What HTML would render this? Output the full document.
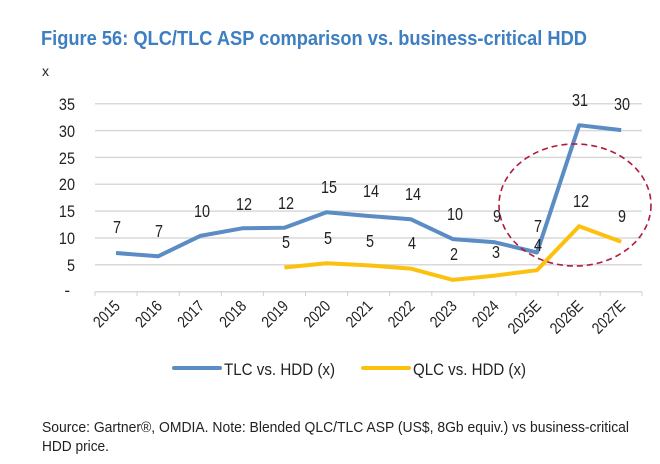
<!DOCTYPE html>
<html><head><meta charset="utf-8"><style>
html,body{margin:0;padding:0;background:#fff;}
svg{display:block;font-family:"Liberation Sans",Arial,sans-serif;}
</style></head><body>
<svg width="660" height="464" viewBox="0 0 660 464">
<text x="41" y="45" font-size="20" font-weight="bold" fill="#3d7fc1" textLength="546" lengthAdjust="spacingAndGlyphs">Figure 56: QLC/TLC ASP comparison vs. business-critical HDD</text>
<text x="42" y="76" font-size="14" fill="#222">x</text>
<g stroke="#d9d9d9" stroke-width="1.5">
<line x1="95" x2="642" y1="103.7" y2="103.7"/>
<line x1="95" x2="642" y1="130.6" y2="130.6"/>
<line x1="95" x2="642" y1="157.4" y2="157.4"/>
<line x1="95" x2="642" y1="184.3" y2="184.3"/>
<line x1="95" x2="642" y1="211.1" y2="211.1"/>
<line x1="95" x2="642" y1="238" y2="238"/>
<line x1="95" x2="642" y1="264.8" y2="264.8"/>
<line x1="95" x2="642" y1="291.7" y2="291.7"/>
</g>
<g stroke="#d0d0d0" stroke-width="1">
<line x1="95" x2="95" y1="291.7" y2="296"/><line x1="137.1" x2="137.1" y1="291.7" y2="296"/><line x1="179.2" x2="179.2" y1="291.7" y2="296"/><line x1="221.3" x2="221.3" y1="291.7" y2="296"/><line x1="263.4" x2="263.4" y1="291.7" y2="296"/><line x1="305.5" x2="305.5" y1="291.7" y2="296"/><line x1="347.6" x2="347.6" y1="291.7" y2="296"/><line x1="389.7" x2="389.7" y1="291.7" y2="296"/><line x1="431.8" x2="431.8" y1="291.7" y2="296"/><line x1="473.9" x2="473.9" y1="291.7" y2="296"/><line x1="516" x2="516" y1="291.7" y2="296"/><line x1="558.1" x2="558.1" y1="291.7" y2="296"/><line x1="600.2" x2="600.2" y1="291.7" y2="296"/><line x1="642" x2="642" y1="291.7" y2="296"/>
</g>
<g font-size="17" fill="#222" text-anchor="end">
<text transform="translate(75,110) scale(0.85,1)">35</text><text transform="translate(75,137) scale(0.85,1)">30</text><text transform="translate(75,164) scale(0.85,1)">25</text><text transform="translate(75,190) scale(0.85,1)">20</text><text transform="translate(75,217) scale(0.85,1)">15</text><text transform="translate(75,244) scale(0.85,1)">10</text><text transform="translate(75,271) scale(0.85,1)">5</text><text x="70" y="296">-</text>
</g>
<g font-size="16" fill="#222" text-anchor="end">
<text transform="translate(121,307) rotate(-45) scale(0.85,1)">2015</text>
<text transform="translate(163.1,307) rotate(-45) scale(0.85,1)">2016</text>
<text transform="translate(205.2,307) rotate(-45) scale(0.85,1)">2017</text>
<text transform="translate(247.3,307) rotate(-45) scale(0.85,1)">2018</text>
<text transform="translate(289.4,307) rotate(-45) scale(0.85,1)">2019</text>
<text transform="translate(331.5,307) rotate(-45) scale(0.85,1)">2020</text>
<text transform="translate(373.6,307) rotate(-45) scale(0.85,1)">2021</text>
<text transform="translate(415.7,307) rotate(-45) scale(0.85,1)">2022</text>
<text transform="translate(457.8,307) rotate(-45) scale(0.85,1)">2023</text>
<text transform="translate(499.9,307) rotate(-45) scale(0.85,1)">2024</text>
<text transform="translate(542,307) rotate(-45) scale(0.85,1)">2025E</text>
<text transform="translate(584.1,307) rotate(-45) scale(0.85,1)">2026E</text>
<text transform="translate(626.2,307) rotate(-45) scale(0.85,1)">2027E</text>
</g>
<polyline fill="none" stroke="#5b8cc4" stroke-width="4" stroke-linejoin="round" points="116,253 158.1,256.3 200.2,235.9 242.3,228.3 284.4,227.8 326.5,212.2 368.6,216 410.7,219.2 452.8,239.1 494.9,242.3 537,252.5 579.1,125.2 621.2,130.1"/>
<polyline fill="none" stroke="#fcc10e" stroke-width="4" stroke-linejoin="round" points="284.4,267.5 326.5,263.2 368.6,265.4 410.7,268.6 452.8,279.9 494.9,275.6 537,270.2 579.1,226.2 621.2,241.8"/>
<ellipse cx="575" cy="205" rx="76" ry="61" fill="none" stroke="#b01a3c" stroke-width="1.6" stroke-dasharray="6,4"/>
<g font-size="18" fill="#222" text-anchor="middle">
<text transform="translate(117,233) scale(0.8,1)">7</text><text transform="translate(159,237) scale(0.8,1)">7</text><text transform="translate(202,217) scale(0.8,1)">10</text><text transform="translate(244,210) scale(0.8,1)">12</text><text transform="translate(286,209) scale(0.8,1)">12</text><text transform="translate(329,193) scale(0.8,1)">15</text><text transform="translate(371,197) scale(0.8,1)">14</text><text transform="translate(413,200) scale(0.8,1)">14</text><text transform="translate(455,220) scale(0.8,1)">10</text><text transform="translate(497,222) scale(0.8,1)">9</text><text transform="translate(538,232) scale(0.8,1)">7</text><text transform="translate(580,106) scale(0.8,1)">31</text><text transform="translate(622,110) scale(0.8,1)">30</text>
<text transform="translate(286,248) scale(0.8,1)">5</text><text transform="translate(328,244) scale(0.8,1)">5</text><text transform="translate(370,247) scale(0.8,1)">5</text><text transform="translate(412,249) scale(0.8,1)">4</text><text transform="translate(454,260) scale(0.8,1)">2</text><text transform="translate(496,258) scale(0.8,1)">3</text><text transform="translate(538,251) scale(0.8,1)">4</text><text transform="translate(581,207) scale(0.8,1)">12</text><text transform="translate(622,222) scale(0.8,1)">9</text>
</g>
<line x1="174" x2="220" y1="368" y2="368" stroke="#5b8cc4" stroke-width="4" stroke-linecap="round"/>
<text x="224" y="375" font-size="17" fill="#222" textLength="111" lengthAdjust="spacingAndGlyphs">TLC vs. HDD (x)</text>
<line x1="363" x2="409" y1="368" y2="368" stroke="#fcc10e" stroke-width="4" stroke-linecap="round"/>
<text x="413" y="375" font-size="17" fill="#222" textLength="113" lengthAdjust="spacingAndGlyphs">QLC vs. HDD (x)</text>
<text x="42" y="432" font-size="15" fill="#222" textLength="587" lengthAdjust="spacingAndGlyphs">Source: Gartner®, OMDIA. Note: Blended QLC/TLC ASP (US$, 8Gb equiv.) vs business-critical</text>
<text x="42" y="451" font-size="15" fill="#222" textLength="67" lengthAdjust="spacingAndGlyphs">HDD price.</text>
</svg>
</body></html>
